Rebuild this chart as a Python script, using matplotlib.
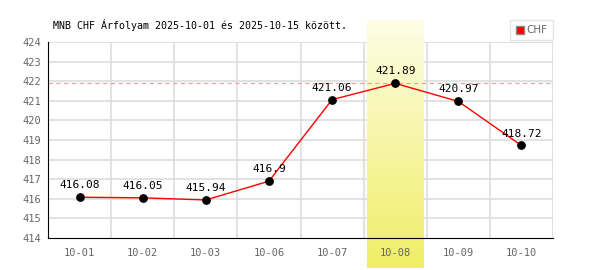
import matplotlib
matplotlib.use("Agg")
import matplotlib.pyplot as plt
import numpy as np
from matplotlib.transforms import blended_transform_factory
from matplotlib.colors import LinearSegmentedColormap
from matplotlib.lines import Line2D

dates = ["10-01", "10-02", "10-03", "10-06", "10-07", "10-08", "10-09", "10-10"]
values = [416.08, 416.05, 415.94, 416.9, 421.06, 421.89, 420.97, 418.72]
labels = ["416.08", "416.05", "415.94", "416.9", "421.06", "421.89", "420.97", "418.72"]
title = "MNB CHF Árfolyam 2025-10-01 és 2025-10-15 között."
highlight_idx = 5

plt.rcParams['font.family'] = ['DejaVu Sans Mono']
fig = plt.figure(figsize=(6, 2.7), dpi=100)
ax = fig.add_axes([48/600, 32/270, 505/600, 196/270])
x = np.arange(len(dates))

ax.set_xlim(-0.5, len(dates) - 0.5)
ax.set_ylim(414, 424)
ax.set_yticks(range(414, 425))
ax.set_xticks(x)
ax.set_xticklabels(dates)
ax.grid(False)
for xv in np.arange(0.5, len(dates), 1):
    ax.axvline(xv, color="#dddddd", lw=1.2, zorder=0.5)
for yv in range(415, 425):
    ax.axhline(yv, color="#dddddd", lw=1.2, zorder=0.5)

# highlight band gradient
tr = blended_transform_factory(ax.transData, ax.transAxes)
grad = np.linspace(0, 1, 256).reshape(-1, 1)
cmap = LinearSegmentedColormap.from_list("g", ["#fdfde6", "#f0ee66"])
ax.imshow(grad, aspect="auto", cmap=cmap, origin="upper",
          extent=(highlight_idx - 0.45, highlight_idx + 0.45, -0.153, 1.112),
          transform=tr, clip_on=False, zorder=0.6)

ax.axhline(max(values), color="#ff9999", lw=0.8, ls=(0, (4, 3)), zorder=0.7)
ax.plot(x, values, color="#ff0000", lw=1, zorder=2)
ax.scatter(x, values, s=28, color="black", zorder=3)
for xi, v, t in zip(x, values, labels):
    ax.annotate(t, (xi, v), xytext=(0, 5), textcoords="offset points",
                ha="center", va="bottom", fontsize=8, color="black", zorder=4)

for s in ["top", "right"]:
    ax.spines[s].set_visible(False)
ax.spines["left"].set_color("black")
ax.spines["bottom"].set_color("black")
ax.tick_params(axis="both", which="both", length=0, colors="#666666", labelsize=7.5)
ax.tick_params(axis="x", pad=7)
ax.tick_params(axis="y", pad=5)
ax.set_xlim(-0.5, len(dates) - 0.5)
ax.set_ylim(414, 424)

fig.text(53/600, 1 - 25/270, title, fontsize=7.2, color="black", ha="left", va="center")

h = Line2D([], [], marker="s", color="none", markerfacecolor="#ff0000",
           markeredgecolor="#888888", markersize=6)
leg = ax.legend([h], ["CHF"], loc="upper right", bbox_to_anchor=(1.0, 1.112),
                borderaxespad=0, frameon=True, fancybox=False, handlelength=0.8,
                borderpad=0.5, handletextpad=0.3,
                prop={"family": "DejaVu Sans", "size": 7.5})
leg.get_frame().set_edgecolor("#dddddd")
for t in leg.get_texts():
    t.set_color("#666666")

fig.savefig("out.png", dpi=100)
